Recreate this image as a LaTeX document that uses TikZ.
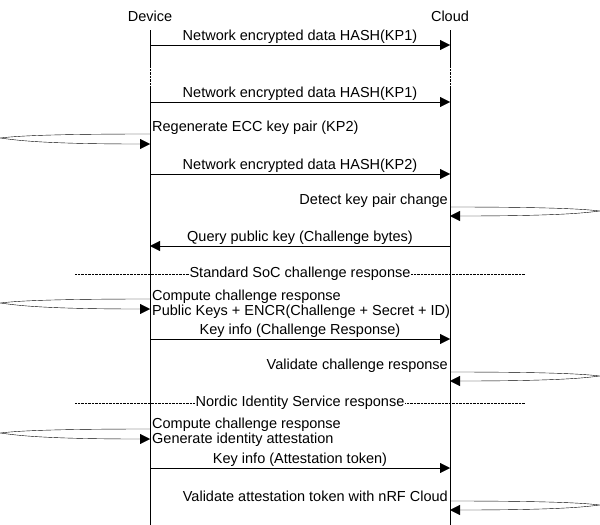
\documentclass[tikz,border=0pt]{standalone}
\usepackage{fontspec}
\setmainfont{Liberation Sans}
\usetikzlibrary{arrows.meta}
\begin{document}
\begin{tikzpicture}[x=1pt,y=-1pt,
  lbl/.style={font=\fontsize{14.5}{15}\selectfont,inner sep=1pt},
  msg/.style={-{Triangle[length=10pt,width=10pt]}},
  sep/.style={densely dotted},
  seplbl/.style={lbl,fill=white,inner xsep=1pt}]
\useasboundingbox (0,0) rectangle (600,525);
\node[lbl] (dev) at (150,16) {Device};
\node[lbl] (cld) at (450,16) {Cloud};
\coordinate (d0) at (150,30); \coordinate (d1) at (150,66); \coordinate (d2) at (150,88); \coordinate (d3) at (150,525);
\coordinate (c0) at (450,30); \coordinate (c1) at (450,66); \coordinate (c2) at (450,88); \coordinate (c3) at (450,525);
\draw (d0)--(d1) (d2)--(d3) (c0)--(c1) (c2)--(c3);
\draw[sep] (d1)--(d2) (c1)--(c2);
\newcommand\msgLR[2]{\coordinate (a#1) at (150,#1); \coordinate (b#1) at (450,#1);
  \draw[msg] (a#1)--(b#1) node[lbl,midway,above] {#2};}
\newcommand\msgRL[2]{\coordinate (a#1) at (450,#1); \coordinate (b#1) at (150,#1);
  \draw[msg] (a#1)--(b#1) node[lbl,midway,above] {#2};}
\newcommand\loopD[1]{\coordinate (s#1) at (150,#1); \coordinate (t#1) at (150,#1+10); \coordinate (m#1) at (0,#1+4);
  \draw[msg] (s#1) .. controls (30,#1) and (10,#1+3) .. (m#1) .. controls (10,#1+5) and (30,#1+10) .. (t#1);}
\newcommand\selfC[2]{\coordinate (s#1) at (450,#1); \coordinate (t#1) at (450,#1+9); \coordinate (m#1) at (600,#1+4);
  \draw[msg] (s#1) .. controls (570,#1) and (590,#1+3) .. (m#1) .. controls (590,#1+5) and (570,#1+9) .. (t#1);
  \node[lbl,anchor=south east,align=right] (n#1) at (449,#1+2) {#2};}
\msgLR{45}{Network encrypted data HASH(KP1)}
\msgLR{102}{Network encrypted data HASH(KP1)}
\loopD{134}
\node[lbl,anchor=south west] (n134) at (151,136) {Regenerate ECC key pair (KP2)};
\msgLR{174}{Network encrypted data HASH(KP2)}
\selfC{207}{Detect key pair change}
\msgRL{246}{Query public key (Challenge bytes)}
\coordinate (l1) at (75,274); \coordinate (r1) at (525,274);
\draw[sep] (l1)--(r1) node[seplbl,midway] {Standard SoC challenge response};
\loopD{299}
\node[lbl,anchor=west,align=left] (n299) at (151,304) {Compute challenge response\\Public Keys + ENCR(Challenge + Secret + ID)};
\msgLR{339}{Key info (Challenge Response)}
\selfC{372}{Validate challenge response}
\coordinate (l2) at (75,403); \coordinate (r2) at (525,403);
\draw[sep] (l2)--(r2) node[seplbl,midway] {Nordic Identity Service response};
\loopD{429}
\node[lbl,anchor=west,align=left] (n429) at (151,432) {Compute challenge response\\Generate identity attestation};
\msgLR{468}{Key info (Attestation token)}
\selfC{501}{Validate attestation token with nRF Cloud}
\end{tikzpicture}
\end{document}
